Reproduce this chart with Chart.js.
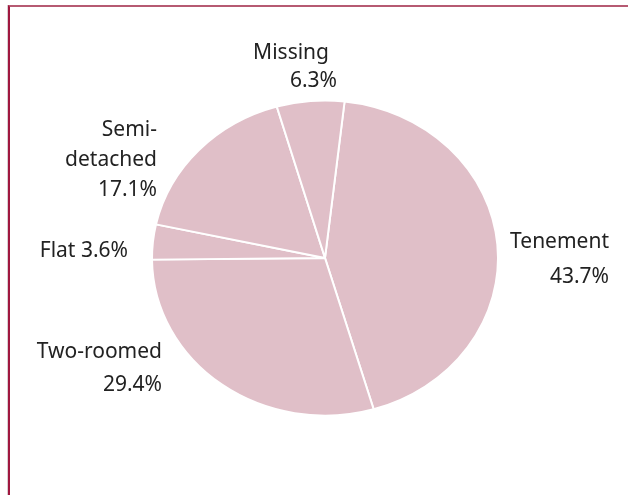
<!DOCTYPE html>
<html>
<head>
<meta charset="utf-8">
<script src="https://cdn.jsdelivr.net/npm/chart.js@4"></script>
<style>
  html, body { margin: 0; padding: 0; background: #fff; }
  #wrap { position: relative; width: 628px; height: 495px; overflow: hidden; }
  #frame {
    position: absolute; left: 8px; top: 5px; width: 700px; height: 600px;
    border-top: 2px solid #b65a72; border-left: 2px solid #a0173f;
    box-shadow: -1px 0 0 #d8d0d3;
  }
  #chart { position: absolute; left: 0; top: 0; }
</style>
</head>
<body>
<div id="wrap">
  <div id="frame"></div>
  <canvas id="chart" width="628" height="495"></canvas>
</div>
<script>
// ── Data ──────────────────────────────────────────────────────────────────────
const categories = ['Tenement', 'Two-roomed', 'Flat', 'Semi-detached', 'Missing'];
const shares     = [43.7, 29.4, 3.6, 17.1, 6.3];
// how each label is broken into lines (value is appended on the last line)
const labelLines = [['Tenement', ''], ['Two-roomed', ''], ['Flat '], ['Semi-', 'detached', ''], ['Missing', '']];

// ── Label layout (offsets from pie centre; right edge of text, first baseline) ─
const labelLayout = [
  { dx: 284,  dy: -10,  lh: 35, first: 0 },
  { dx: -163, dy: 100,  lh: 33, first: 0 },
  { dx: -197, dy: -1,   lh: 26, first: 0 },
  { dx: -168, dy: -122, lh: 30, first: 0 },
  { dx: 12,   dy: -199, lh: 28, first: -8 },
];

const FILL = '#e0bfc8';
const SQUASH = 157.5 / 173; // pie is drawn slightly flattened vertically

const squashPlugin = {
  id: 'squash',
  beforeDatasetsDraw(chart) {
    const arc = chart.getDatasetMeta(0).data[0];
    const ctx = chart.ctx;
    ctx.save();
    ctx.translate(arc.x, arc.y);
    ctx.scale(1, SQUASH);
    ctx.translate(-arc.x, -arc.y);
  },
  afterDatasetsDraw(chart) {
    chart.ctx.restore();
  },
};

const labelPlugin = {
  id: 'sliceLabels',
  afterDraw(chart) {
    const ctx = chart.ctx;
    const meta = chart.getDatasetMeta(0);
    ctx.save();
    ctx.font = '21px "Noto Sans"';
    ctx.fillStyle = '#222222';
    ctx.textAlign = 'right';
    ctx.textBaseline = 'alphabetic';
    meta.data.forEach((arc, i) => {
      const lay = labelLayout[i];
      const lines = labelLines[i].slice();
      lines[lines.length - 1] += shares[i].toFixed(1) + '%';
      lines.forEach((txt, j) => {
        const shift = (j === 0 && lines.length > 1) ? lay.first : 0;
        ctx.fillText(txt, arc.x + lay.dx + shift, arc.y + lay.dy + j * lay.lh);
      });
    });
    ctx.restore();
  },
};

new Chart(document.getElementById('chart'), {
  type: 'pie',
  data: {
    labels: categories,
    datasets: [{
      data: shares,
      backgroundColor: FILL,
      borderColor: '#ffffff',
      borderWidth: 2,
      hoverOffset: 0,
    }],
  },
  options: {
    responsive: false,
    animation: false,
    rotation: 6.5,
    layout: { padding: { left: 151, right: 129, top: 84, bottom: 63 } },
    plugins: {
      legend: { display: false },
      tooltip: { enabled: false },
    },
  },
  plugins: [squashPlugin, labelPlugin],
});
</script>
</body>
</html>
